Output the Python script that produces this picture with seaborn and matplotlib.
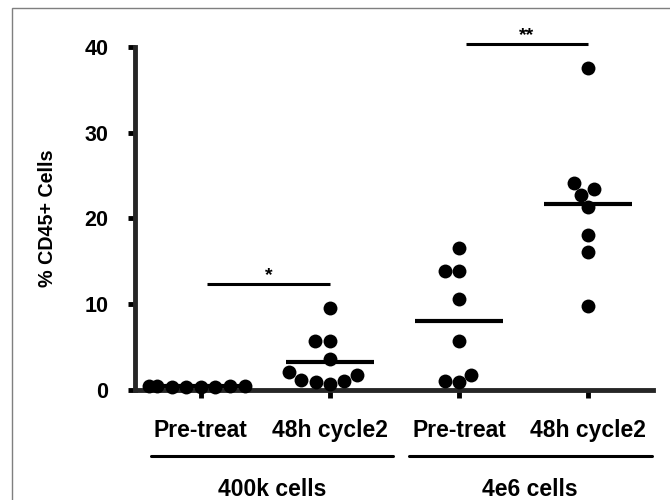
import numpy as np
import pandas as pd
import seaborn as sns
import matplotlib.pyplot as plt
from matplotlib.patches import Rectangle
from matplotlib.transforms import blended_transform_factory

# values (% CD45+ cells)
pre_400k = [0.4, 0.5, 0.4, 0.5, 0.3, 0.5, 0.4, 0.5]
cycle2_400k = [9.6, 5.7, 5.7, 3.6, 2.1, 1.8, 1.2, 1.0, 0.9, 0.7]
pre_4e6 = [16.6, 13.9, 13.9, 10.6, 5.7, 1.8, 1.1, 0.9]
cycle2_4e6 = [37.6, 24.1, 23.4, 22.7, 21.3, 18.1, 16.1, 9.8]

conditions = ["Pre-treat", "48h cycle2", "Pre-treat ", "48h cycle2 "]
tick_labels = ["Pre-treat", "48h cycle2", "Pre-treat", "48h cycle2"]
groups = ["400k cells", "4e6 cells"]
sig_pairs = [(0, 1, "*"), (2, 3, "**")]
sig_heights = [12.4, 40.4]

series = [pre_400k, cycle2_400k, pre_4e6, cycle2_4e6]
df = pd.concat(
    [pd.DataFrame({"condition": c, "value": v}) for c, v in zip(conditions, series)],
    ignore_index=True,
)

sns.set_style("white")
plt.rcParams["font.family"] = ["Liberation Sans", "DejaVu Sans"]
plt.rcParams["font.weight"] = "bold"
for key in ["text.color", "axes.labelcolor", "xtick.color", "ytick.color"]:
    plt.rcParams[key] = "black"

fig = plt.figure(figsize=(6.7, 5), dpi=100)
ax = fig.add_axes([135 / 670, 110 / 500, (653 - 135) / 670, (390 - 47) / 500])

sns.swarmplot(data=df, x="condition", y="value", order=conditions,
              color="black", size=10, ax=ax, clip_on=False, zorder=3)

# mean bars
means = df.groupby("condition", sort=False)["value"].mean()
for i, c in enumerate(conditions):
    ax.hlines(means[c], i - 0.34, i + 0.34, color="black", lw=3, zorder=4)

# significance bars
for (a, b, star), h in zip(sig_pairs, sig_heights):
    ax.plot([a + 0.05, b], [h, h], color="black", lw=2.2, clip_on=False,
            solid_capstyle="butt")
    ax.text((a + 0.05 + b) / 2, h - 0.1, star, ha="center", va="bottom",
            fontsize=14, fontweight="bold")

ax.set_xlim(-0.51, 3.5)
ax.set_ylim(0, 40)
ax.set_yticks([0, 10, 20, 30, 40])
ax.set_xticks(range(4))
ax.set_xticklabels(tick_labels, fontsize=16.5, fontweight="bold")
ax.tick_params(axis="y", labelsize=15.5, length=5, width=3.5, pad=14, left=True)
ax.tick_params(axis="x", length=6, width=3.5, pad=15, bottom=True)
ax.set_xlabel("")
ax.set_ylabel("% CD45+ Cells", fontsize=14.2, fontweight="bold", labelpad=20)

sns.despine(ax=ax)
ax.spines["left"].set_linewidth(3.5)
ax.spines["bottom"].set_linewidth(3.5)

# group brackets below the axis
trans = blended_transform_factory(ax.transData, ax.transAxes)
for k, g in enumerate(groups):
    x0 = 2 * k - 0.39
    x1 = 2 * k + 1 + 0.49
    ax.plot([x0, x1], [-0.192, -0.192], color="black", lw=2.2, transform=trans,
            clip_on=False)
    ax.text((x0 + x1) / 2, -0.29, g, ha="center", va="center", transform=trans,
            fontsize=16.5, fontweight="bold")

# thin grey frame
fig.patches.append(Rectangle((12 / 670, -0.01), 1.0, (500 - 8) / 500 + 0.01,
                             transform=fig.transFigure, fill=False,
                             edgecolor="#7f7f7f", lw=1))

fig.savefig("out.png", dpi=100)
